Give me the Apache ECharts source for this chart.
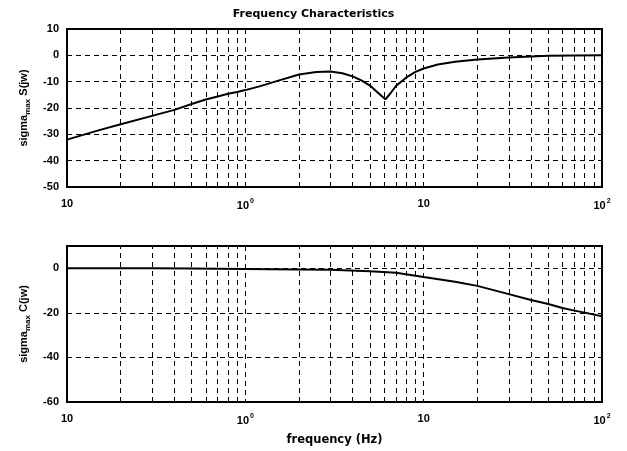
<!DOCTYPE html>
<html>
<head>
<meta charset="utf-8">
<script src="https://cdn.jsdelivr.net/npm/echarts@6/dist/echarts.min.js"></script>
<style>
html,body{margin:0;padding:0;background:#fff;}
#chart{width:627px;height:451px;}
</style>
</head>
<body>
<div id="chart"></div>
<script>
// ---- data ----
const freqS = [0.1, 0.15, 0.2, 0.3, 0.4, 0.5, 0.6, 0.7, 0.8, 0.9, 1.0, 1.2, 1.5, 2, 2.5, 3, 3.5, 4, 4.5, 5, 5.5, 6.1, 6.5, 7, 8, 9, 10, 12, 15, 20, 30, 40, 50, 70, 100];
const sigmaS = [-32, -28.5, -26.2, -23, -20.7, -18.5, -16.8, -15.6, -14.6, -13.9, -13.2, -11.8, -9.8, -7.3, -6.3, -6.1, -6.8, -8.0, -9.6, -11.5, -14, -16.7, -14.5, -11.6, -8.4, -6.3, -5.0, -3.5, -2.4, -1.6, -0.8, -0.4, -0.2, -0.1, 0];
const freqC = [0.1, 0.3, 0.5, 1, 2, 3, 5, 7, 10, 15, 20, 30, 40, 50, 60, 70, 80, 100];
const sigmaC = [0, 0, -0.05, -0.3, -0.5, -0.7, -1.3, -2.0, -3.9, -6.0, -7.9, -11.6, -14.2, -16.0, -17.8, -19.0, -19.9, -21.5];
const minorGridFreqs = [0.2,0.3,0.4,0.5,0.6,0.7,0.8,0.9, 2,3,4,5,6,7,8,9, 20,30,40,50,60,70,80,90];
const yTicksTop = {min: -50, max: 10, interval: 10};
const yTicksBot = {min: -60, max: 10, interval: 20};
const titleText = 'Frequency Characteristics';
const xName = 'frequency (Hz)';

const FONT = 'Liberation Sans';
const dash = [5, 4];

function xLabel(v) {
  const e = Math.round(Math.log10(v));
  if (e === 0) return '10{s|0}';
  if (e === 2) return '10{s|2}';
  return '10';
}

function xAxisCfg(idx, withName) {
  return {
    type: 'log', logBase: 10, gridIndex: idx, min: 0.1, max: 100,
    axisLine: {show: true, onZero: false, lineStyle: {color: '#000', width: 1.5}},
    axisTick: {show: false},
    splitLine: {show: true, lineStyle: {color: '#000', width: 1, type: dash}},
    minorSplitLine: {show: false},
    axisLabel: {
      color: '#000', fontFamily: FONT, fontWeight: 'bold', fontSize: 11, margin: 11,
      formatter: xLabel,
      rich: {s: {fontSize: 7, fontWeight: 'bold', fontFamily: FONT, color: '#000', verticalAlign: 'top', padding: [0, 0, 8, 1]}}
    },
    name: withName ? xName : '',
    nameLocation: 'middle', nameGap: 32,
    nameTextStyle: {color: '#000', fontFamily: 'DejaVu Sans', fontWeight: 'bold', fontSize: 11.5}
  };
}

function yAxisCfg(idx, t, nameLetter) {
  return {
    type: 'value', gridIndex: idx, min: t.min, max: t.max, interval: t.interval,
    axisLine: {show: true, onZero: false, lineStyle: {color: '#000', width: 1.5}},
    axisTick: {show: false},
    splitLine: {show: true, lineStyle: {color: '#000', width: 1, type: dash}},
    axisLabel: {
      color: '#000', fontFamily: FONT, fontWeight: 'bold', fontSize: 11, margin: 8,
      formatter: function (v) { return (v > 0 && idx === 1) ? '' : String(v); }
    },
    name: '{a|sigma}{b|max}{a| ' + nameLetter + '(jw)}',
    nameLocation: 'middle', nameGap: 33, nameRotate: 90,
    nameTextStyle: {
      color: '#000',
      rich: {
        a: {fontFamily: FONT, fontWeight: 'bold', fontSize: 11, color: '#000', lineHeight: 16},
        b: {fontFamily: FONT, fontWeight: 'bold', fontSize: 8, color: '#000', verticalAlign: 'bottom', padding: [8, 0, 0, 0], lineHeight: 16}
      }
    }
  };
}

function toPairs(xs, ys) { return xs.map((x, i) => [x, ys[i]]); }

const gridLines = {
  silent: true, symbol: ['none', 'none'], animation: false,
  label: {show: false},
  lineStyle: {color: '#000', width: 1, type: dash},
  emphasis: {disabled: true},
  data: minorGridFreqs.map(f => ({xAxis: f}))
};

const chart = echarts.init(document.getElementById('chart'), null, {renderer: 'canvas'});
chart.setOption({
  animation: false,
  backgroundColor: '#fff',
  title: {
    text: titleText, left: 'center', top: 4,
    textStyle: {color: '#000', fontFamily: 'DejaVu Sans', fontWeight: 'bold', fontSize: 11}
  },
  grid: [
    {left: 67, right: 25, top: 29, height: 158, show: true, borderColor: '#000', borderWidth: 2, backgroundColor: 'transparent'},
    {left: 67, right: 25, top: 246, height: 156, show: true, borderColor: '#000', borderWidth: 2, backgroundColor: 'transparent'}
  ],
  xAxis: [xAxisCfg(0, false), xAxisCfg(1, true)],
  yAxis: [yAxisCfg(0, yTicksTop, 'S'), yAxisCfg(1, yTicksBot, 'C')],
  series: [
    {
      type: 'line', xAxisIndex: 0, yAxisIndex: 0, data: toPairs(freqS, sigmaS),
      showSymbol: false, smooth: false, lineStyle: {color: '#000', width: 2}, z: 5,
      markLine: gridLines
    },
    {
      type: 'line', xAxisIndex: 1, yAxisIndex: 1, data: toPairs(freqC, sigmaC),
      showSymbol: false, smooth: false, lineStyle: {color: '#000', width: 2}, z: 5,
      markLine: gridLines
    }
  ]
});
</script>
</body>
</html>
